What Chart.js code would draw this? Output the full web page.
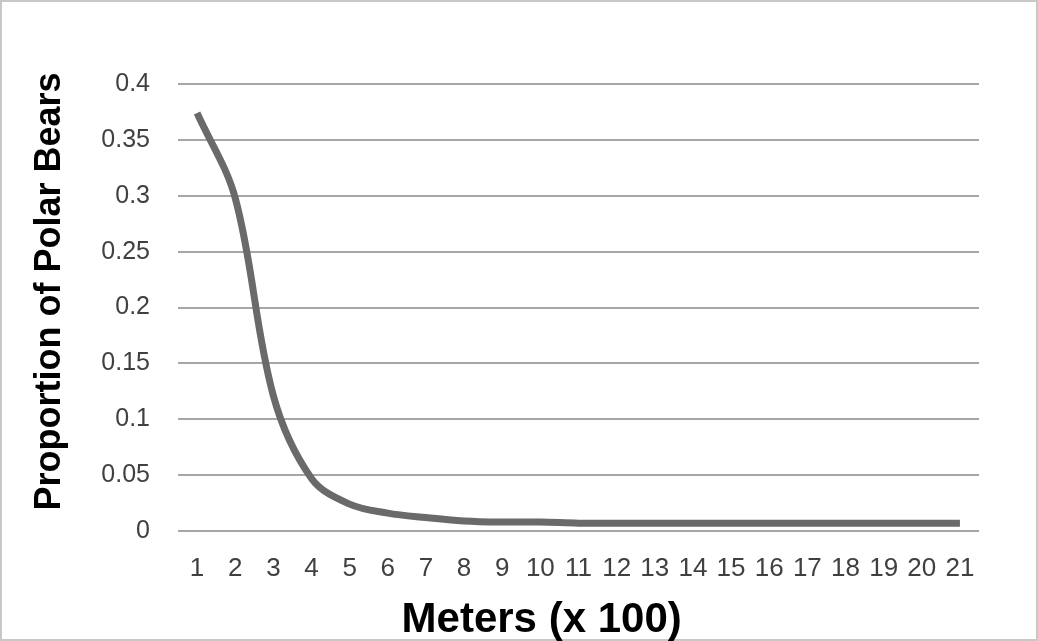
<!DOCTYPE html>
<html>
<head>
<meta charset="utf-8">
<script src="https://cdn.jsdelivr.net/npm/chart.js@4/dist/chart.umd.min.js"></script>
<style>
  html, body { margin: 0; padding: 0; background: #ffffff; }
  #wrap { position: relative; width: 1038px; height: 641px; }
</style>
</head>
<body>
<div id="wrap"><canvas id="c" width="1038" height="641"></canvas></div>
<script>
const categories = ["1","2","3","4","5","6","7","8","9","10","11","12","13","14","15","16","17","18","19","20","21"];
const proportions = [0.374, 0.298, 0.121, 0.047, 0.024, 0.016, 0.012, 0.009, 0.008, 0.008, 0.007, 0.007, 0.007, 0.007, 0.007, 0.007, 0.007, 0.007, 0.007, 0.007, 0.007];
const yTickValues = [0, 0.05, 0.1, 0.15, 0.2, 0.25, 0.3, 0.35, 0.4];
const yTitle = "Proportion of Polar Bears";
const xTitle = "Meters (x 100)";

const framePlugin = {
  id: 'frame',
  beforeDraw(chart) {
    const ctx = chart.ctx;
    ctx.save();
    ctx.fillStyle = '#ffffff';
    ctx.fillRect(0, 0, chart.width, chart.height);
    ctx.strokeStyle = '#c8c8c8';
    ctx.lineWidth = 2;
    ctx.strokeRect(1, 1, chart.width - 2, chart.height - 2);
    ctx.restore();
  },
  afterDraw(chart) {
    const ctx = chart.ctx;
    const area = chart.chartArea;
    ctx.save();
    ctx.fillStyle = '#000000';
    ctx.font = "bold 42px 'Liberation Sans', Arial, sans-serif";
    ctx.textAlign = 'center';
    ctx.textBaseline = 'alphabetic';
    ctx.fillText(xTitle, area.left + (area.right - area.left) * 0.454, chart.height - 9);
    ctx.translate(60, area.top + (area.bottom - area.top) * 0.464);
    ctx.rotate(-Math.PI / 2);
    ctx.font = "bold 36px 'Liberation Sans', Arial, sans-serif";
    ctx.fillText(yTitle, 0, 0);
    ctx.restore();
  }
};

new Chart(document.getElementById('c'), {
  type: 'line',
  data: {
    labels: categories,
    datasets: [{
      data: proportions,
      borderColor: '#6a6a6a',
      borderWidth: 7,
      pointRadius: 0,
      tension: 0.35,
      fill: false
    }]
  },
  options: {
    responsive: false,
    animation: false,
    devicePixelRatio: 1,
    layout: { padding: { top: 84, right: 59, left: 10, bottom: 0 } },
    plugins: { legend: { display: false }, tooltip: { enabled: false } },
    scales: {
      x: {
        offset: true,
        grid: { display: false, drawTicks: false },
        border: { display: false },
        ticks: {
          color: '#404040',
          font: { family: "'Liberation Sans', Arial, sans-serif", size: 26 },
          padding: 22,
          maxRotation: 0,
          autoSkip: false
        },
        afterFit(scale) { scale.height = 641 - 531; }
      },
      y: {
        min: 0,
        max: 0.4,
        afterBuildTicks(scale) { scale.ticks = yTickValues.map(v => ({ value: v })); },
        grid: { color: '#a6a6a6', lineWidth: 2, drawTicks: false },
        border: { display: false },
        ticks: {
          color: '#404040',
          font: { family: "'Liberation Sans', Arial, sans-serif", size: 25 },
          padding: 28,
          callback: (v) => String(v)
        },
        afterFit(scale) { scale.width = 178 - 10; }
      }
    }
  },
  plugins: [framePlugin]
});
</script>
</body>
</html>
